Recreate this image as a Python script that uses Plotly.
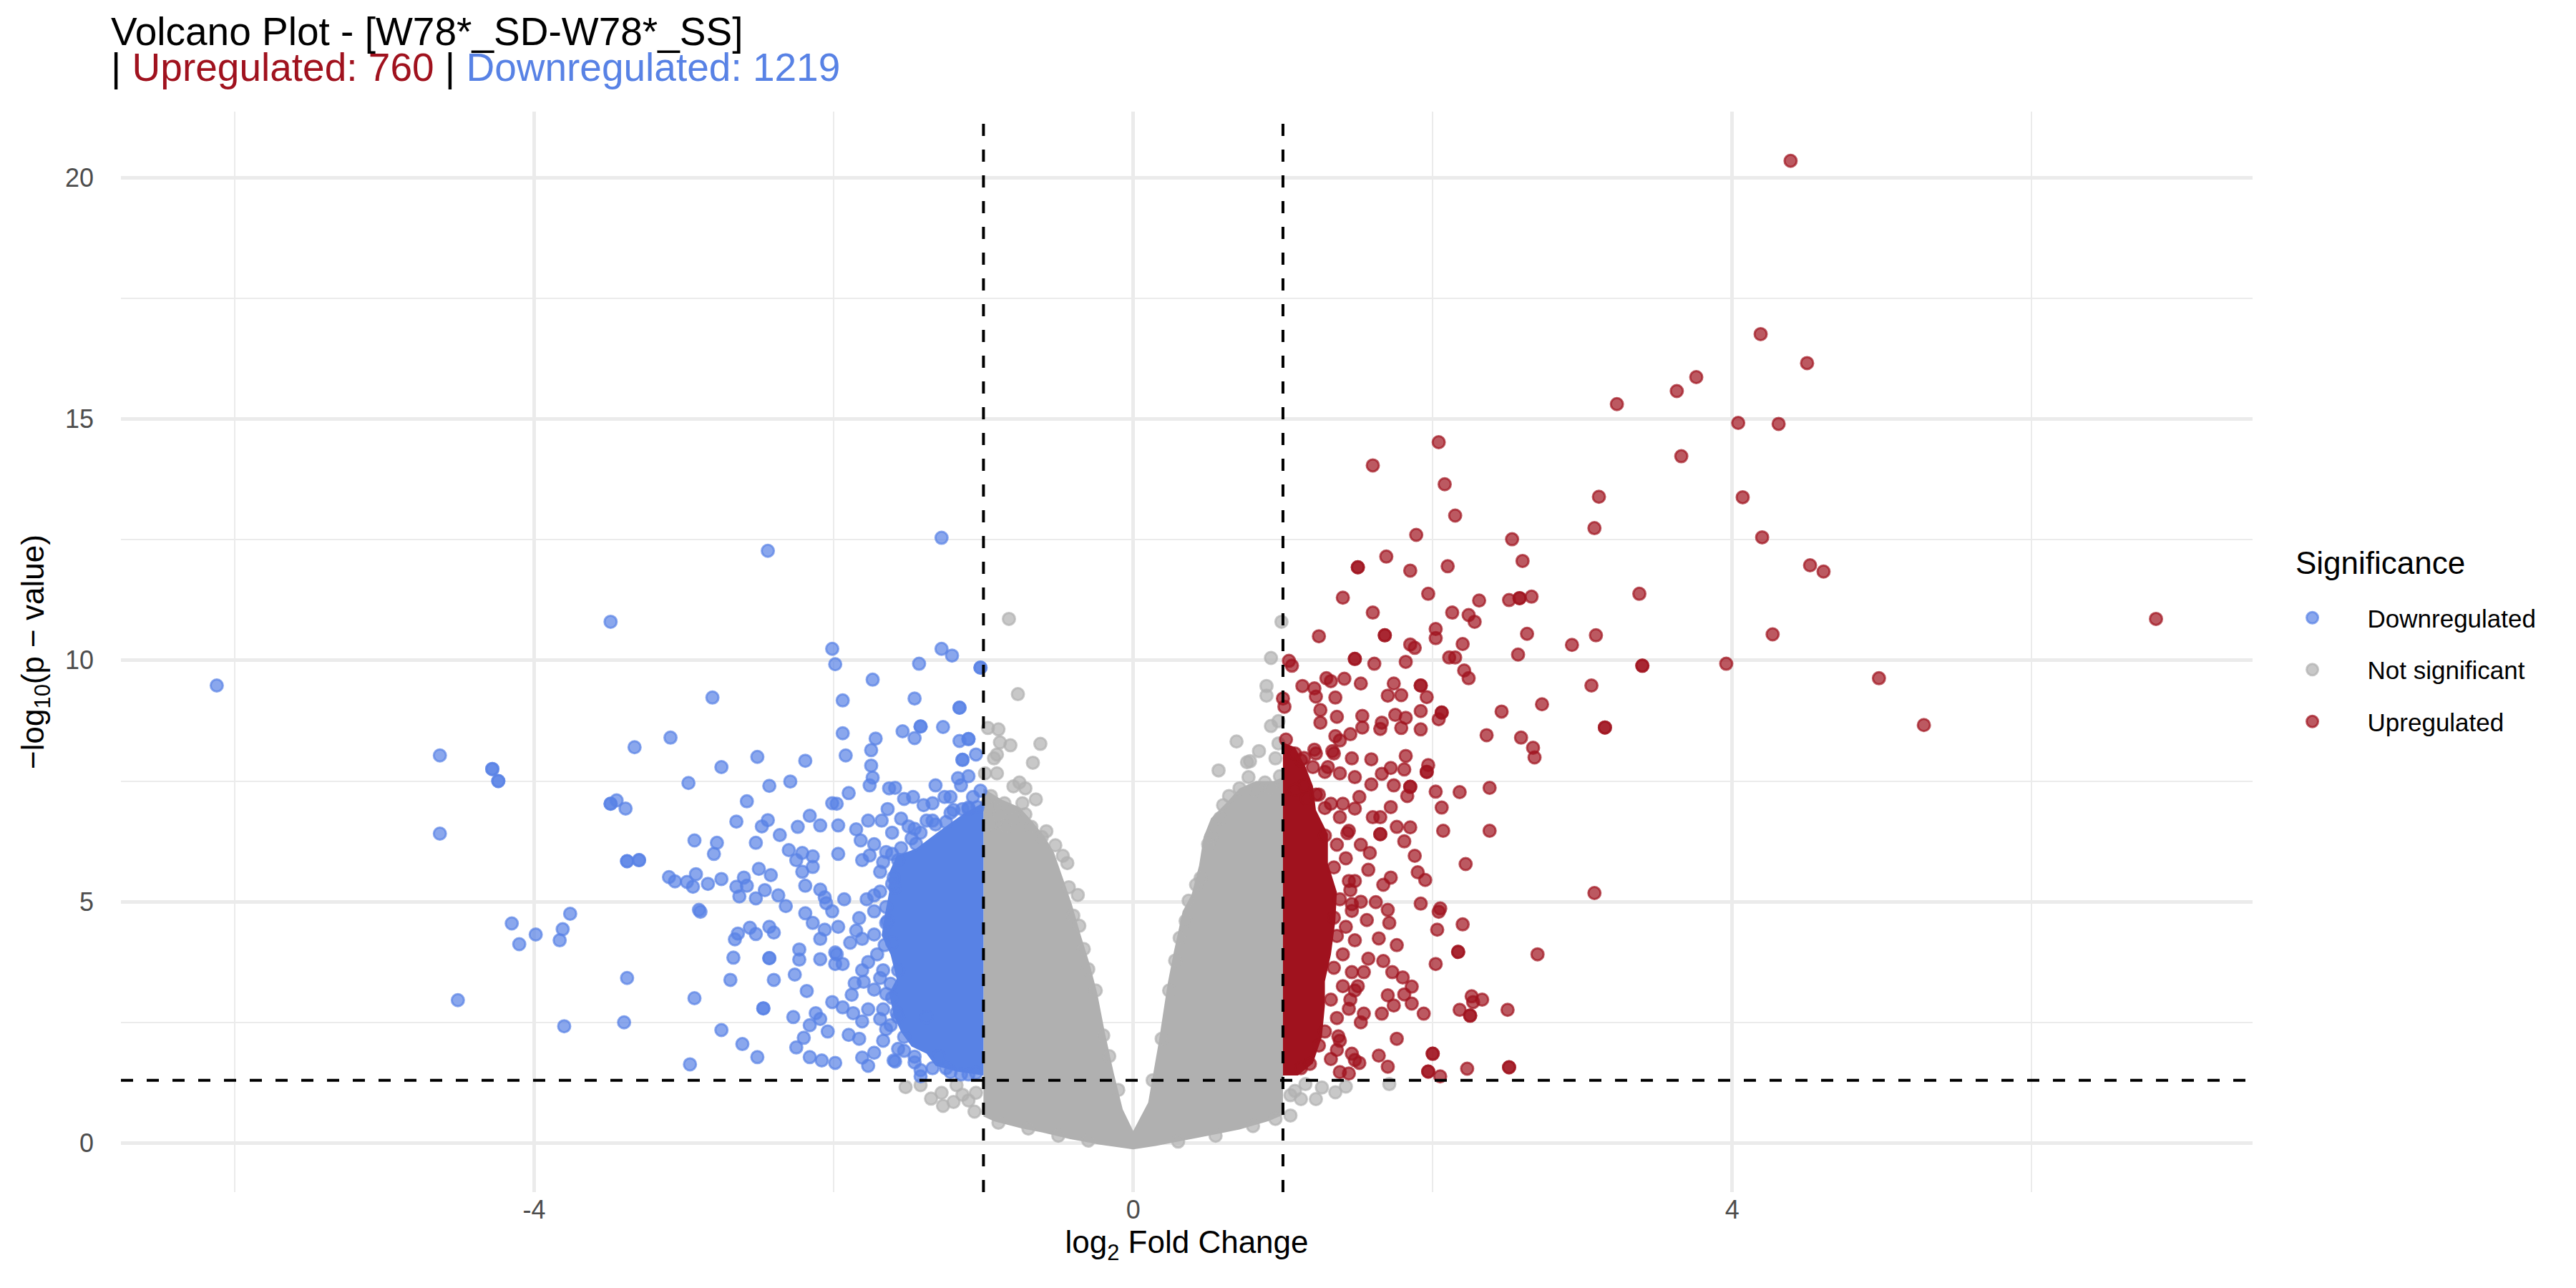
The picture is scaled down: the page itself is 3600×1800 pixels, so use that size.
import plotly.graph_objects as go

# cut-offs and counts shown in the title
fc_cut = 1.0
p_cut = 1.3
n_up = 760
n_down = 1219

x_ticks = [-4, 0, 4]
x_minor = [-6, -2, 2, 6]
y_ticks = [0, 5, 10, 15, 20]
y_minor = [2.5, 7.5, 12.5, 17.5]

# downregulated genes (log2FC, -log10 p)
down_pts = [
    (-6.12, 9.48), (-3.49, 10.80), (-4.63, 8.03), (-4.28, 7.75), (-4.28, 7.75), (-4.24, 7.50), (-4.24, 7.50),
    (-4.63, 6.41), (-3.09, 8.40), (-3.33, 8.20), (-2.97, 7.46), (-3.49, 7.03), (-3.49, 7.03), (-3.45, 7.10),
    (-3.39, 6.93), (-2.93, 6.27), (-3.38, 5.84), (-3.38, 5.84), (-3.30, 5.86), (-3.30, 5.86), (-3.10, 5.51),
    (-3.06, 5.42), (-2.98, 5.41), (-2.92, 5.57), (-2.94, 5.31), (-2.90, 4.83), (-2.89, 4.79), (-3.76, 4.75),
    (-4.15, 4.55), (-3.81, 4.43), (-3.99, 4.32), (-4.10, 4.12), (-3.83, 4.20), (-3.38, 3.42), (-2.93, 3.00),
    (-4.51, 2.96), (-3.80, 2.42), (-3.40, 2.50), (-2.96, 1.63),
    (-2.44, 12.27), (-1.28, 12.54), (-2.01, 10.24), (-1.99, 9.92), (-1.74, 9.60), (-1.94, 9.17), (-1.94, 8.49),
    (-1.92, 8.03), (-1.72, 8.38), (-1.75, 8.14), (-1.75, 7.82), (-1.74, 7.57), (-1.76, 7.41), (-1.43, 9.93),
    (-1.28, 10.24), (-1.21, 10.10), (-1.02, 9.85), (-1.02, 9.85), (-1.46, 9.21), (-1.16, 9.02), (-1.16, 9.02),
    (-1.42, 8.63), (-1.42, 8.63), (-1.27, 8.62), (-1.54, 8.53), (-1.46, 8.39), (-1.16, 8.33), (-1.10, 8.37),
    (-1.10, 8.37), (-1.14, 7.94), (-1.14, 7.94), (-1.05, 8.05), (-1.17, 7.56), (-1.15, 7.41), (-1.32, 7.41),
    (-2.81, 9.23), (-2.75, 7.79), (-2.51, 8.00), (-2.19, 7.92), (-2.43, 7.40), (-2.29, 7.49), (-2.58, 7.08),
    (-2.65, 6.66), (-2.44, 6.69), (-2.48, 6.56), (-2.16, 6.78), (-2.24, 6.55), (-2.09, 6.58), (-1.97, 6.58),
    (-2.78, 6.22), (-2.80, 5.99), (-2.52, 6.22), (-2.36, 6.38), (-2.30, 6.07), (-2.21, 6.01), (-2.14, 5.94),
    (-2.50, 5.68), (-2.42, 5.55), (-2.75, 5.47), (-2.84, 5.37), (-2.60, 5.50), (-2.65, 5.31), (-2.58, 5.33),
    (-2.46, 5.24), (-2.63, 5.11), (-2.52, 5.07), (-2.37, 5.13), (-2.32, 4.91), (-2.19, 4.76), (-2.14, 4.56),
    (-2.56, 4.46), (-2.43, 4.48), (-2.40, 4.36), (-2.64, 4.34), (-2.66, 4.22), (-2.52, 4.33), (-2.67, 3.84),
    (-2.43, 3.83), (-2.43, 3.83), (-2.23, 4.01), (-2.23, 3.80), (-2.09, 3.81), (-2.69, 3.38), (-2.40, 3.38),
    (-2.26, 3.49), (-2.18, 3.15), (-2.47, 2.79), (-2.47, 2.79), (-2.01, 2.92), (-2.12, 2.69), (-2.27, 2.61),
    (-2.16, 2.44), (-2.09, 2.57), (-2.75, 2.34), (-2.61, 2.05), (-2.51, 1.78), (-2.25, 1.98), (-2.20, 2.18),
    (-2.16, 1.78), (-2.04, 2.31), (-2.08, 1.71), (-1.99, 1.66), (-1.90, 2.24), (-1.83, 2.16), (-1.81, 1.77),
    (-1.77, 1.60), (-1.94, 2.81), (-1.86, 3.31), (-1.88, 3.07), (-1.80, 3.34), (-2.06, 4.42), (-1.97, 4.48),
    (-1.98, 3.91), (-1.99, 3.71), (-2.09, 4.23), (-2.05, 4.97), (-1.93, 5.05), (-2.01, 4.80), (-1.97, 5.99),
    (-1.85, 6.50), (-1.98, 7.03), (-2.01, 7.04), (-1.90, 7.25), (-1.63, 7.35), (-1.59, 7.36), (-1.64, 6.92),
    (-1.68, 6.68), (-1.77, 6.68), (-1.82, 6.27), (-1.76, 5.96), (-1.73, 6.19), (-1.81, 5.86), (-2.14, 5.72),
    (-2.25, 5.86), (-2.21, 5.62), (-2.19, 5.33), (-2.09, 5.25), (-2.06, 5.09), (-1.60, 1.71), (-1.59, 1.69),
    (-1.42, 1.51), (-1.42, 1.38), (-1.46, 1.67), (-1.38, 2.61), (-1.53, 1.91), (-1.67, 2.12), (-1.73, 1.87),
    (-1.62, 2.44), (-1.69, 2.57), (-1.65, 3.09), (-1.85, 4.40), (-1.83, 4.66), (-1.78, 5.05), (-1.69, 5.21),
    (-1.59, 5.29), (-1.65, 4.89), (-1.73, 4.80), (-1.71, 3.91), (-1.77, 3.75), (-1.81, 4.23), (-1.67, 3.58),
    (-1.57, 3.58), (-1.89, 4.15), (-1.81, 3.58), (-1.94, 3.71), (-1.77, 2.77), (-1.81, 2.52), (-1.87, 2.69),
    (-1.99, 3.95), (-1.67, 5.82), (-1.61, 5.99), (-1.55, 6.11), (-1.48, 6.31), (-1.50, 6.56), (-1.42, 6.43),
    (-1.38, 6.68), (-1.32, 6.60), (-1.55, 6.72), (-1.61, 6.43), (-1.53, 7.13), (-1.47, 7.17), (-1.40, 7.00),
    (-1.34, 7.04), (-1.26, 7.17), (-1.22, 7.17), (-1.14, 6.92), (-1.07, 7.17), (-1.04, 6.96),
    (-1.02, 7.30), (-1.10, 7.60), (-1.20, 6.90), (-1.05, 1.45), (-1.15, 1.42), (-1.25, 1.55), (-1.30, 1.80),
    (-1.58, 2.70), (-1.62, 3.30), (-1.66, 4.10), (-1.64, 4.60), (-1.60, 5.50), (-1.45, 6.20), (-1.25, 6.65),
    (-1.10, 6.95),
    (-1.65, 6.03), (-1.57, 5.86), (-1.69, 5.62), (-1.61, 5.37), (-1.73, 5.13), (-1.65, 4.56), (-1.73, 4.32),
    (-1.61, 4.15), (-1.69, 3.42), (-1.73, 3.18), (-1.61, 3.01), (-1.67, 2.77), (-1.57, 2.61), (-1.65, 2.36),
    (-1.53, 2.20), (-1.57, 1.95), (-1.46, 1.79), (-1.34, 1.55), (-1.22, 1.47), (-1.10, 1.42), (-1.46, 6.51),
    (-1.34, 6.68), (-1.22, 6.84), (-1.10, 6.92),
]

# upregulated genes
up_pts = [
    (4.39, 20.35), (4.19, 16.76), (4.50, 16.16), (3.76, 15.87), (3.63, 15.58), (3.23, 15.31), (4.04, 14.92),
    (4.31, 14.90), (3.66, 14.23), (3.11, 13.39), (4.07, 13.38), (3.08, 12.74), (4.20, 12.55), (4.52, 11.97),
    (4.61, 11.84), (3.38, 11.38), (6.83, 10.86), (3.09, 10.52), (4.27, 10.54), (3.40, 9.89), (3.40, 9.89),
    (3.96, 9.93), (3.06, 9.48), (4.98, 9.63), (3.15, 8.61), (3.15, 8.61), (5.28, 8.66), (3.08, 5.18),
    (2.04, 14.52), (1.60, 14.04), (2.08, 13.65), (2.15, 13.00), (1.89, 12.60), (2.53, 12.51), (1.69, 12.15),
    (1.50, 11.93), (1.50, 11.93), (1.85, 11.86), (2.10, 11.95), (2.60, 12.06), (1.97, 11.38), (1.40, 11.30),
    (2.31, 11.24), (2.51, 11.25), (2.58, 11.29), (2.58, 11.29), (2.66, 11.32), (1.60, 10.99), (2.13, 10.99),
    (2.24, 10.94), (2.28, 10.80), (1.24, 10.50), (1.68, 10.52), (1.68, 10.52), (2.02, 10.65), (2.02, 10.46),
    (1.85, 10.33), (1.88, 10.26), (2.20, 10.34), (2.63, 10.55), (2.93, 10.32), (2.57, 10.12), (1.48, 10.03),
    (1.48, 10.03), (1.04, 9.99), (1.06, 9.89), (1.61, 9.93), (1.82, 9.97), (2.11, 10.06), (2.15, 10.06),
    (2.21, 9.79), (2.24, 9.63), (1.13, 9.47), (1.21, 9.42), (1.29, 9.63), (1.32, 9.57), (1.41, 9.62),
    (1.22, 9.25), (1.35, 9.23), (1.52, 9.52), (1.70, 9.27), (1.74, 9.52), (1.79, 9.28), (1.92, 9.48),
    (1.92, 9.48), (1.96, 9.24), (1.01, 9.04), (1.25, 8.97), (1.25, 8.71), (1.53, 8.85), (1.53, 8.61),
    (1.66, 8.71), (1.65, 8.58), (1.75, 8.87), (1.82, 8.81), (1.79, 8.60), (1.92, 8.95), (1.92, 8.57),
    (2.06, 8.92), (2.06, 8.92), (2.04, 8.78), (2.46, 8.94), (2.73, 9.09), (2.36, 8.45), (2.59, 8.40),
    (2.67, 8.19), (2.68, 7.99), (1.45, 8.47), (1.38, 8.34), (1.02, 8.36), (1.21, 8.15), (1.33, 8.12),
    (1.46, 7.97), (1.59, 7.95), (1.82, 8.02), (1.97, 7.83), (1.96, 7.69), (1.96, 7.69), (1.81, 7.74),
    (1.72, 7.77), (1.66, 7.65), (1.48, 7.58), (1.38, 7.66), (1.59, 7.43), (1.74, 7.41), (1.85, 7.38),
    (1.85, 7.38), (1.83, 7.19), (2.02, 7.28), (2.18, 7.27), (2.38, 7.36), (2.06, 6.95), (1.72, 6.96),
    (1.65, 6.75), (1.60, 6.75), (1.48, 6.93), (1.76, 6.55), (1.85, 6.54), (1.65, 6.40), (1.65, 6.40),
    (2.07, 6.47), (2.38, 6.47), (1.81, 6.25), (1.58, 6.01), (1.88, 5.95), (2.22, 5.78), (1.90, 5.61),
    (1.95, 5.45), (1.72, 5.50), (1.67, 5.35), (1.52, 5.00), (1.62, 4.99), (1.92, 4.96), (2.05, 4.86),
    (2.04, 4.79), (1.70, 4.83), (1.71, 4.56), (2.03, 4.42), (2.20, 4.53), (2.17, 3.96), (2.17, 3.96),
    (2.70, 3.91), (2.02, 3.71), (1.76, 4.10), (1.73, 3.54), (1.80, 3.43), (1.86, 3.24), (1.70, 3.06),
    (1.81, 3.08), (1.86, 2.89), (1.94, 2.68), (1.74, 2.85), (2.18, 2.76), (2.26, 3.04), (2.27, 2.92),
    (2.33, 2.97), (2.25, 2.64), (2.25, 2.64), (2.50, 2.76), (1.66, 2.68), (1.52, 2.50), (1.76, 2.16),
    (1.64, 1.81), (1.70, 1.58), (2.00, 1.85), (2.00, 1.85), (1.97, 1.48), (1.97, 1.48), (2.05, 1.38),
    (2.23, 1.54), (2.51, 1.57), (2.51, 1.57), (1.46, 1.85), (1.48, 1.72), (1.51, 1.66), (1.44, 1.44),
    (1.38, 1.47), (1.36, 1.93), (1.37, 2.21), (1.45, 2.97), (1.50, 3.25), (1.54, 3.54), (1.57, 3.82),
    (1.67, 3.77), (1.64, 4.24), (1.56, 4.62), (1.46, 4.81), (1.45, 5.24), (1.48, 5.43), (1.57, 5.66),
    (1.52, 6.18), (1.43, 6.42), (1.40, 7.03), (1.51, 7.17), (1.28, 6.94), (1.24, 7.22), (1.28, 7.69),
    (1.20, 7.79), (1.12, 7.93), (1.14, 7.41), (1.36, 8.83), (1.35, 8.43), (1.00, 9.21),
    (1.08, 8.07), (1.14, 7.98), (1.22, 8.07), (1.30, 7.79), (1.34, 8.07), (1.08, 7.32), (1.16, 7.13),
    (1.22, 7.22), (1.32, 7.03), (1.38, 6.75), (1.44, 6.47), (1.28, 6.37), (1.36, 6.18), (1.42, 5.90),
    (1.34, 5.71), (1.44, 5.43), (1.38, 5.05), (1.46, 4.95), (1.34, 4.67), (1.42, 4.48), (1.36, 4.29),
    (1.48, 4.20), (1.40, 3.91), (1.34, 3.63), (1.46, 3.54), (1.40, 3.25), (1.48, 3.16), (1.32, 2.97),
    (1.44, 2.78), (1.54, 2.68), (1.36, 2.59), (1.28, 2.31), (1.38, 2.12), (1.24, 2.02), (1.32, 1.74),
    (1.18, 1.64), (1.12, 1.55),
]

# not significant genes away from the dense centre
ns_pts = [
    (-0.83, 10.86), (-0.77, 9.30), (-0.97, 8.60), (-0.90, 8.57), (-0.89, 8.30), (-0.82, 8.24), (-0.62, 8.27),
    (-0.67, 7.88), (-0.93, 7.97), (-0.91, 7.66), (-0.76, 7.47), (-0.80, 7.39), (-0.72, 7.35), (-0.65, 7.12),
    (-0.74, 7.04), (-0.86, 7.04), (-0.95, 7.19), (-0.89, 6.81), (-0.80, 6.73), (-0.72, 6.81), (-0.58, 6.46),
    (-0.61, 6.34), (-0.52, 6.17), (-0.44, 5.80), (-0.37, 5.14), (-0.40, 4.71), (-0.33, 4.02), (-0.25, 3.16),
    (-0.20, 2.23), (-0.91, 8.05), (-0.99, 7.66), (-0.98, 7.00), (-0.95, 6.60), (-0.85, 6.55), (-0.68, 6.55),
    (-0.47, 5.95), (-0.43, 5.30), (-0.36, 4.50), (-0.30, 3.60), (-0.16, 1.80), (-0.10, 1.10),
    (0.99, 10.80), (0.92, 10.05), (0.89, 9.47), (0.89, 9.27), (0.97, 8.74), (0.92, 8.64), (0.69, 8.32),
    (0.84, 8.12), (0.78, 7.91), (0.76, 7.89), (0.57, 7.72), (0.97, 8.28), (0.95, 7.97), (0.71, 7.35),
    (0.64, 7.19), (0.77, 7.58), (0.88, 7.47), (0.92, 7.35), (0.58, 6.73), (0.52, 6.34), (0.50, 6.19),
    (0.45, 5.49), (0.37, 5.02), (0.31, 4.25), (0.28, 3.78), (0.24, 3.16), (0.19, 2.16), (0.13, 1.30),
    (0.98, 7.60), (0.82, 7.30), (0.60, 7.00), (0.35, 4.60), (0.42, 5.35),
    (-1.52, 1.16), (-1.28, 1.04), (-1.27, 0.77), (-1.14, 1.00), (-1.05, 1.04), (-1.06, 0.65), (-1.10, 0.88),
    (-1.20, 0.85), (-1.35, 0.92), (-1.42, 1.20), (-1.18, 1.20), (1.05, 0.57), (1.22, 0.91), (1.26, 1.15),
    (1.12, 0.91), (1.05, 0.99), (1.42, 1.17), (1.71, 1.22), (1.08, 1.08), (1.15, 1.22), (1.35, 1.05),
    (-0.90, 0.42), (-0.70, 0.30), (-0.50, 0.15), (-0.30, 0.05), (0.30, 0.03), (0.55, 0.15), (0.80, 0.35),
    (0.95, 0.50),
]

# outlines of the areas where the points overlap into solid colour
ns_core = [
    (0.0, -0.13), (-0.23, -0.03), (-0.42, 0.08), (-0.61, 0.22), (-0.74, 0.30), (-0.93, 0.45), (-1.0, 0.55),
    (-1.0, 7.35), (-0.88, 7.12), (-0.76, 6.96), (-0.67, 6.65), (-0.59, 6.34), (-0.53, 6.03), (-0.47, 5.5),
    (-0.41, 4.95), (-0.35, 4.3), (-0.29, 3.7), (-0.24, 3.1), (-0.19, 2.3), (-0.13, 1.45), (-0.07, 0.7),
    (0.0, 0.25), (0.10, 0.84), (0.17, 2.08), (0.23, 3.3), (0.27, 3.94), (0.33, 4.8), (0.39, 5.15),
    (0.44, 5.75), (0.47, 6.34), (0.52, 6.73), (0.62, 7.04), (0.71, 7.35), (0.82, 7.5), (0.94, 7.5),
    (1.0, 7.58), (1.0, 0.58), (0.9, 0.45), (0.71, 0.28), (0.5, 0.15), (0.33, 0.05), (0.15, -0.06),
    (0.0, -0.13),
]
down_core = [
    (-1.0, 7.05), (-1.12, 6.85), (-1.3, 6.45), (-1.45, 6.1), (-1.58, 5.95), (-1.63, 5.6), (-1.63, 5.2),
    (-1.66, 4.7), (-1.68, 4.3), (-1.62, 3.9), (-1.58, 3.4), (-1.63, 3.1), (-1.6, 2.65), (-1.55, 2.3),
    (-1.48, 2.0), (-1.38, 1.85), (-1.32, 1.6), (-1.18, 1.48), (-1.0, 1.4),
]
up_core = [
    (1.0, 8.3), (1.08, 8.2), (1.15, 7.8), (1.2, 7.4), (1.22, 6.9), (1.3, 6.4), (1.3, 5.8), (1.36, 5.2),
    (1.35, 4.6), (1.32, 3.9), (1.28, 3.35), (1.28, 2.85), (1.26, 2.2), (1.2, 1.65), (1.1, 1.4), (1.0, 1.4),
]

rgb_down = (88, 130, 229)
rgb_ns = (176, 176, 176)
rgb_up = (160, 18, 30)

FONT = "Liberation Sans, Arial, Helvetica, sans-serif"


def split(pts):
    return [p[0] for p in pts], [p[1] for p in pts]


def rgba(rgb, a):
    return "rgba(%d,%d,%d,%s)" % (rgb[0], rgb[1], rgb[2], a)


fig = go.Figure()

for core, pts, name, rgb, rank in [
    (ns_core, ns_pts, "Not significant", rgb_ns, 2),
    (down_core, down_pts, "Downregulated", rgb_down, 1),
    (up_core, up_pts, "Upregulated", rgb_up, 3),
]:
    cx, cy = split(core)
    fig.add_trace(go.Scatter(
        x=cx, y=cy, mode="lines", fill="toself",
        fillcolor=rgba(rgb, 1), line=dict(width=0),
        hoverinfo="skip", showlegend=False,
    ))
    px, py = split(pts)
    fig.add_trace(go.Scatter(
        x=px, y=py, mode="markers", name=name,
        legendgroup=name, legendrank=rank,
        marker=dict(size=17, color=rgba(rgb, 0.7), line=dict(width=3, color=rgba(rgb, 0.7))),
    ))

# threshold lines
for v in [-fc_cut, fc_cut]:
    fig.add_vline(x=v, line=dict(color="black", width=4, dash="17px,19px"))
fig.add_hline(y=p_cut, line=dict(color="black", width=4, dash="17px,19px"))

# two-line title, second line coloured like the groups
fig.add_annotation(
    text="Volcano Plot - [W78*_SD-W78*_SS]",
    xref="paper", yref="paper", x=-0.0054, y=1.052, xanchor="left", yanchor="bottom",
    showarrow=False, font=dict(size=55, color="black", family=FONT),
)
fig.add_annotation(
    text="| <span style='color:%s'>Upregulated: %d</span> | <span style='color:%s'>Downregulated: %d</span>"
         % (rgba(rgb_up, 1), n_up, rgba(rgb_down, 1), n_down),
    xref="paper", yref="paper", x=-0.0054, y=1.0195, xanchor="left", yanchor="bottom",
    showarrow=False, font=dict(size=55, color="black", family=FONT),
)
# legend heading
fig.add_annotation(
    text="Significance",
    xref="paper", yref="paper", x=1.0196, y=0.565, xanchor="left", yanchor="bottom",
    showarrow=False, font=dict(size=44, color="black", family=FONT),
)

grid = "#EBEBEB"
fig.update_layout(
    width=3600, height=1800,
    margin=dict(l=161, r=460, t=148, b=142),
    paper_bgcolor="white", plot_bgcolor="white",
    font=dict(family=FONT, color="black"),
    xaxis=dict(
        range=[-6.76, 7.475], tickmode="array", tickvals=x_ticks, ticktext=[str(t) for t in x_ticks],
        showgrid=True, gridcolor=grid, gridwidth=4.5, zeroline=False, showline=False, ticks="",
        ticklabelstandoff=0,
        tickfont=dict(size=36, color="#4D4D4D"),
        minor=dict(tickmode="array", tickvals=x_minor, showgrid=True, gridcolor=grid, gridwidth=2.3),
        title=dict(text="log<sub>2</sub> Fold Change", font=dict(size=44, color="black"), standoff=10),
    ),
    yaxis=dict(
        range=[-1.0175, 21.37], tickmode="array", tickvals=y_ticks, ticktext=[str(t) for t in y_ticks],
        showgrid=True, gridcolor=grid, gridwidth=4.5, zeroline=False, showline=False, ticks="",
        ticklabelstandoff=37,
        tickfont=dict(size=36, color="#4D4D4D"),
        minor=dict(tickmode="array", tickvals=y_minor, showgrid=True, gridcolor=grid, gridwidth=2.3),
        title=dict(text="\u2212log<sub>10</sub>(p \u2212 value)", font=dict(size=44, color="black"), standoff=15),
    ),
    legend=dict(
        font=dict(size=35, color="black"),
        x=1.0022, xanchor="left", y=0.551, yanchor="top",
        traceorder="grouped", tracegroupgap=24, itemwidth=144,
        bgcolor="rgba(0,0,0,0)",
    ),
)

fig.write_html("out.html")
